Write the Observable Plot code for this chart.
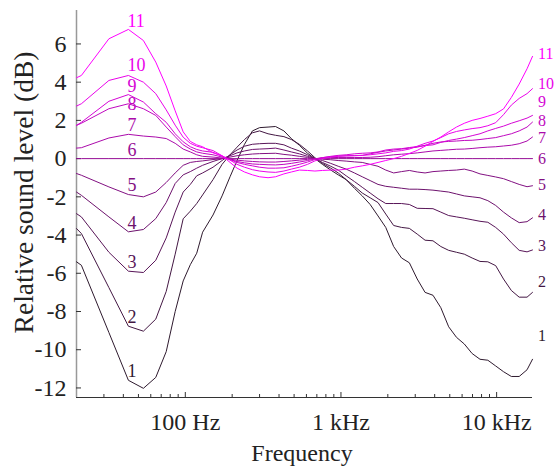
<!DOCTYPE html>
<html>
<head>
<meta charset="utf-8">
<script src="https://cdn.jsdelivr.net/npm/d3@7"></script>
<script src="https://cdn.jsdelivr.net/npm/@observablehq/plot@0.6"></script>
<style>
  html, body { margin: 0; padding: 0; background: #fff; }
  #chart svg, #chart svg text { font-family: "Liberation Serif", "Times New Roman", serif !important; }
</style>
</head>
<body>
<div id="chart"></div>
<script>
// ---- data ----
const freq = [20, 21.5, 32.3, 43.1, 53.8, 64.6, 75.4, 86.1, 96.9, 107.7,
  118.4, 129.2, 150.7, 172.3, 193.8, 215, 240, 270, 300, 340,
  380, 430, 480, 540, 610, 680, 760, 860, 960, 1080,
  1220, 1370, 1540, 1730, 1940, 2180, 2450, 2750, 3090, 3470,
  3900, 4380, 4920, 5520, 6200, 6960, 7820, 8780, 9860, 11070,
  12430, 13960, 15680, 17000];

const level1 = [-5.4, -5.58, -9.1, -11.6, -12.02, -11.45, -10.1, -8.0, -6.4, -5.55,
  -4.95, -3.85, -2.95, -1.95, -0.95, -0.1, 0.75, 1.45, 1.62, 1.65,
  1.68, 1.45, 1.05, 0.7, 0.28, 0.0, -0.3, -0.6, -0.85, -1.1,
  -1.55, -1.95, -2.4, -3.0, -3.6, -4.6, -5.2, -5.45, -6.3, -7.0,
  -7.15, -7.8, -8.8, -9.35, -9.7, -10.2, -10.5, -10.55, -10.85, -11.15,
  -11.4, -11.4, -11.05, -10.5];
const level2 = [-3.66, -3.92, -6.75, -8.77, -9.03, -8.4, -6.95, -5.0, -3.15, -2.75,
  -2.35, -1.9, -1.1, -0.3, 0.2, 0.6, 1.0, 1.35, 1.45, 1.3,
  1.22, 1.15, 1.0, 0.75, 0.4, 0.05, -0.25, -0.5, -0.75, -1.1,
  -1.45, -1.8, -2.05, -2.3, -2.9, -3.5, -3.6, -3.65, -3.95, -4.27,
  -4.3, -4.6, -4.8, -4.9, -5.0, -5.2, -5.38, -5.4, -5.6, -6.3,
  -6.9, -7.25, -7.25, -7.0];
const level3 = [-2.88, -3.05, -4.9, -5.89, -5.96, -5.32, -4.15, -2.8, -1.75, -1.35,
  -0.9, -0.75, -0.45, -0.1, 0.2, 0.45, 0.65, 0.75, 0.78, 0.8,
  0.8, 0.72, 0.55, 0.4, 0.2, 0.0, -0.2, -0.4, -0.6, -0.9,
  -1.2, -1.5, -1.8, -2.1, -2.35, -2.35, -2.35, -2.4, -2.6, -2.61,
  -2.62, -2.8, -2.98, -3.05, -3.12, -3.2, -3.28, -3.33, -3.6, -3.95,
  -4.4, -4.8, -4.88, -4.78];
const level4 = [-1.75, -1.92, -3.05, -3.83, -3.71, -3.14, -2.3, -1.3, -0.85, -0.68,
  -0.5, -0.35, -0.15, 0.0, 0.15, 0.3, 0.4, 0.48, 0.5, 0.52,
  0.55, 0.45, 0.35, 0.25, 0.12, 0.0, -0.1, -0.25, -0.4, -0.55,
  -0.75, -0.95, -1.15, -1.35, -1.45, -1.5, -1.55, -1.6, -1.6, -1.62,
  -1.65, -1.7, -1.75, -1.85, -1.95, -2.0, -2.05, -2.2, -2.45, -2.8,
  -3.1, -3.35, -3.3, -3.1];
const level5 = [-0.78, -0.87, -1.48, -1.88, -2.0, -1.75, -1.25, -0.75, -0.35, -0.2,
  -0.15, -0.12, -0.05, 0.0, 0.08, 0.15, 0.2, 0.24, 0.26, 0.27,
  0.28, 0.22, 0.18, 0.12, 0.06, 0.0, -0.03, -0.06, -0.1, -0.13,
  -0.17, -0.2, -0.3, -0.4, -0.6, -0.75, -0.68, -0.62, -0.7, -0.75,
  -0.68, -0.65, -0.62, -0.6, -0.55, -0.65, -0.8, -0.88, -0.96, -1.05,
  -1.2, -1.35, -1.47, -1.42];
const level6 = [0, 0, 0, 0, 0, 0, 0, 0, 0, 0,
  0, 0, 0, 0, 0, 0, 0, 0, 0, 0,
  0, 0, 0, 0, 0, 0, 0, 0, 0, 0,
  0, 0, 0, 0, 0, 0, 0, 0, 0, 0,
  0, 0, 0, 0, 0, 0, 0, 0, 0, 0,
  0, 0, 0, 0];
const level7 = [0.55, 0.57, 1.08, 1.27, 1.18, 1.13, 1.05, 0.8, 0.5, 0.35,
  0.2, 0.12, 0.08, 0.03, -0.03, -0.08, -0.12, -0.15, -0.17, -0.18,
  -0.18, -0.15, -0.12, -0.08, -0.04, 0.0, 0.03, 0.05, 0.06, 0.06,
  0.06, 0.06, 0.07, 0.1, 0.15, 0.2, 0.23, 0.26, 0.3, 0.35,
  0.4, 0.43, 0.46, 0.49, 0.5, 0.53, 0.57, 0.6, 0.62, 0.66,
  0.7, 0.78, 0.92, 1.13];
const level8 = [1.74, 1.85, 2.61, 2.87, 2.61, 2.26, 1.65, 1.15, 0.72, 0.5,
  0.35, 0.28, 0.2, 0.08, -0.05, -0.15, -0.22, -0.28, -0.3, -0.32,
  -0.33, -0.3, -0.25, -0.18, -0.1, -0.02, 0.05, 0.1, 0.13, 0.15,
  0.16, 0.17, 0.25, 0.33, 0.4, 0.45, 0.5, 0.55, 0.6, 0.7,
  0.8, 0.87, 0.9, 0.92, 0.95, 0.96, 1.0, 1.05, 1.1, 1.2,
  1.3, 1.45, 1.65, 1.91];
const level9 = [1.74, 1.9, 3.0, 3.35, 2.96, 2.35, 1.9, 1.3, 0.88, 0.62,
  0.48, 0.4, 0.33, 0.12, -0.05, -0.2, -0.3, -0.38, -0.45, -0.5,
  -0.5, -0.48, -0.4, -0.3, -0.18, -0.05, 0.05, 0.12, 0.17, 0.2,
  0.25, 0.28, 0.3, 0.35, 0.45, 0.5, 0.52, 0.58, 0.63, 0.68,
  0.72, 0.85, 0.95, 1.02, 1.1, 1.2, 1.3, 1.45, 1.58, 1.7,
  1.85, 1.98, 2.12, 2.26];
const level10 = [2.75, 2.87, 4.09, 4.35, 4.0, 3.4, 2.55, 1.75, 1.12, 0.8,
  0.65, 0.57, 0.42, 0.15, -0.08, -0.3, -0.45, -0.58, -0.65, -0.7,
  -0.72, -0.65, -0.55, -0.45, -0.3, -0.12, 0.0, 0.08, 0.12, 0.14,
  0.15, 0.17, 0.2, 0.25, 0.3, 0.38, 0.42, 0.5, 0.65, 0.8,
  0.92, 1.1, 1.3, 1.42, 1.5, 1.57, 1.62, 1.72, 1.88, 2.3,
  2.8, 3.15, 3.4, 3.66];
const level11 = [4.23, 4.35, 6.27, 6.76, 6.18, 5.05, 3.8, 2.5, 1.4, 0.9,
  0.72, 0.62, 0.3, 0.15, -0.2, -0.5, -0.7, -0.85, -0.95, -1.0,
  -0.95, -0.8, -0.7, -0.6, -0.62, -0.65, -0.62, -0.6, -0.6, -0.55,
  -0.45, -0.38, -0.3, -0.2, -0.1, 0.0, 0.12, 0.27, 0.43, 0.65,
  0.9, 1.13, 1.4, 1.65, 1.85, 2.0, 2.1, 2.22, 2.35, 2.6,
  3.2, 3.9, 4.7, 5.35];

const curveNames = ["1", "2", "3", "4", "5", "6", "7", "8", "9", "10", "11"];
const curveColors = ["#2e1a2e", "#431743", "#581558", "#6d126d", "#821082", "#960d96",
  "#ab0aab", "#c008c0", "#d505d5", "#ea03ea", "#ff00ff"];
// label levels (dB) where the curve numbers sit, at the left peak and at the right end
const leftLabelLevel = [-11.11, -8.31, -5.42, -3.40, -1.40, 0.46, 1.74, 2.83, 3.79, 4.88, 7.19];
const rightLabelLevel = [-9.28, -6.45, -4.57, -2.92, -1.40, 0.0, 1.06, 2.0, 2.96, 3.9, 5.49];

const yTicks = [-12, -10, -8, -6, -4, -2, 0, 2, 4, 6];
const xMajorTicks = [100, 1000, 10000];
const xMajorLabels = ["100 Hz", "1 kHz", "10 kHz"];
const xMinorTicks = [30, 40, 50, 60, 70, 80, 90, 200, 300, 400, 500, 600, 700, 800, 900,
  2000, 3000, 4000, 5000, 6000, 7000, 8000, 9000];
const xDomain = [20, 17000];
const yDomain = [-12.5, 7.75];
const yLabel = "Relative sound level (dB)";
const xLabel = "Frequency";

// ---- build tables ----
const levels = [level1, level2, level3, level4, level5, level6, level7, level8, level9, level10, level11];
const rows = levels.flatMap((vals, i) => vals.map((v, j) => ({curve: curveNames[i], f: freq[j], v})));
const leftLabels = curveNames.map((c, i) => ({curve: c, f: freq[3], v: leftLabelLevel[i]}));
const rightLabels = curveNames.map((c, i) => ({curve: c, f: freq[freq.length - 1], v: rightLabelLevel[i]}));

const W = 558, H = 467, mL = 76, mR = 26, mT = 10, mB = 70;
const frameW = W - mL - mR, frameH = H - mT - mB;
const serif = "Liberation Serif";

const chart = Plot.plot({
  width: W,
  height: H,
  marginLeft: mL,
  marginRight: mR,
  marginTop: mT,
  marginBottom: mB,
  x: {type: "log", domain: xDomain},
  y: {domain: yDomain},
  color: {domain: curveNames, range: curveColors},
  style: {fontFamily: serif, background: "#fff", color: "#222", overflow: "visible"},
  marks: [
    Plot.ruleY([yDomain[0]], {stroke: "#333", strokeWidth: 1}),
    Plot.ruleX([xDomain[0]], {stroke: "#999", strokeWidth: 1.5}),
    Plot.tickY(yTicks, {y: d => d, insetRight: frameW - 5, stroke: "#333"}),
    Plot.tickX(xMajorTicks, {x: d => d, insetTop: frameH - 5, stroke: "#333"}),
    Plot.tickX(xMinorTicks, {x: d => d, insetTop: frameH - 3, stroke: "#333"}),
    Plot.axisY({ticks: yTicks, tickSize: 0, tickPadding: 10, tickFormat: d => String(d),
      fontSize: 24, fontFamily: serif, label: null}),
    Plot.axisX({ticks: xMajorTicks, tickSize: 0, tickPadding: 15,
      tickFormat: d => xMajorLabels[xMajorTicks.indexOf(d)], fontSize: 24, fontFamily: serif, label: null}),
    Plot.line(rows, {x: "f", y: "v", z: "curve", stroke: "curve", strokeWidth: 1}),
    Plot.text(leftLabels, {x: "f", y: "v", text: "curve", fill: "curve", textAnchor: "start",
      lineAnchor: "middle", fontSize: 18, fontFamily: serif, dx: -1}),
    Plot.text(rightLabels, {x: "f", y: "v", text: "curve", fill: "curve", textAnchor: "start",
      lineAnchor: "middle", fontSize: 16, fontFamily: serif, dx: 5.5}),
    Plot.text([yLabel], {frameAnchor: "left", rotate: -90, dx: -52, dy: -11.5,
      lineAnchor: "middle", textAnchor: "middle", fontSize: 27.5, fontFamily: serif, fill: "#222"}),
    Plot.text([xLabel], {frameAnchor: "bottom", dx: -2.5, dy: 63.5, lineAnchor: "bottom",
      textAnchor: "middle", fontSize: 24, fontFamily: serif, fill: "#222"})
  ]
});
document.getElementById("chart").appendChild(chart);
</script>
</body>
</html>
